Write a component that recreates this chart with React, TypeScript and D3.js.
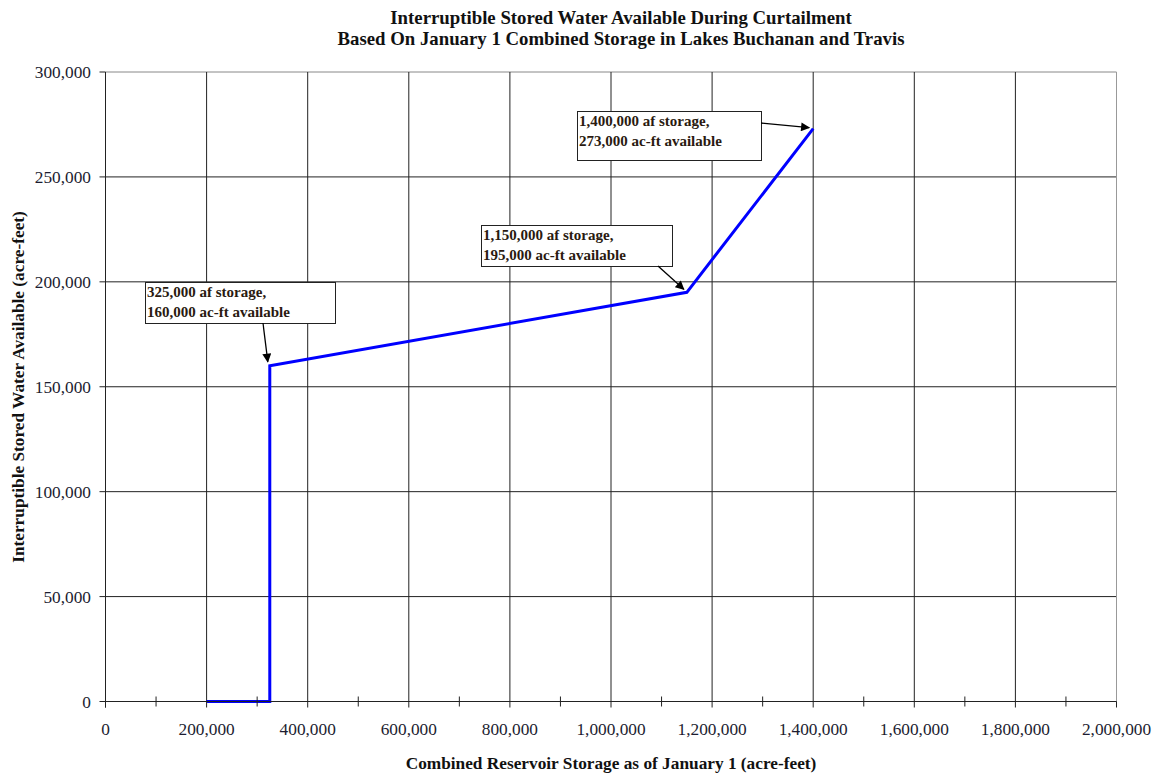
import React from "react";
import * as d3 from "d3";

const storage = [200000, 325000, 325000, 1150000, 1400000];
const available = [0, 0, 160000, 195000, 273000];
const xTicks = [0, 200000, 400000, 600000, 800000, 1000000, 1200000, 1400000, 1600000, 1800000, 2000000];
const xMinorTicks = [100000, 300000, 500000, 700000, 900000, 1100000, 1300000, 1500000, 1700000, 1900000];
const yTicks = [0, 50000, 100000, 150000, 200000, 250000, 300000];
const titleLines = [
  "Interruptible Stored Water Available During Curtailment",
  "Based On January 1 Combined Storage in Lakes Buchanan and Travis",
];
const xTitle = "Combined Reservoir Storage as of January 1 (acre-feet)";
const yTitle = "Interruptible Stored Water Available (acre-feet)";
const notes = [
  { x: 325000, y: 160000, lines: ["325,000 af storage,", "160,000 ac-ft available"] },
  { x: 1150000, y: 195000, lines: ["1,150,000 af storage,", "195,000 ac-ft available"] },
  { x: 1400000, y: 273000, lines: ["1,400,000 af storage,", "273,000 ac-ft available"] },
];
// layout for annotation boxes (pixels): box left, top, width, height, arrow start, arrow tip offset
const noteLayout = [
  { bx: 145, by: 282, bw: 190, bh: 41, ax: 263, ay: 323, tdx: -2, tdy: -4 },
  { bx: 481, by: 225, bw: 191, bh: 41, ax: 658, ay: 266, tdx: -3, tdy: -3 },
  { bx: 577, by: 111, bw: 184, bh: 49, ax: 761, ay: 123, tdx: -4, tdy: -1 },
];

export default function App() {
  const W = 1157, H = 773;
  const x = d3.scaleLinear().domain([0, 2000000]).range([105.5, 1116.5]);
  const y = d3.scaleLinear().domain([0, 300000]).range([701.5, 72]);
  const fmt = d3.format(",");
  const pts: [number, number][] = storage.map((s, i) => [s, available[i]]);
  const line = d3.line<[number, number]>().x(d => x(d[0])).y(d => y(d[1]));
  const serif = "'Liberation Serif', 'Times New Roman', serif";
  return (
    <svg width={W} height={H} style={{ position: "absolute", left: 0, top: 0, background: "#fff" }} fontFamily={serif}>
      <defs>
        <marker id="ah" viewBox="0 0 10 10" refX="9" refY="5" markerWidth="10" markerHeight="9" markerUnits="userSpaceOnUse" orient="auto">
          <path d="M0,0 L10,5 L0,10 z" fill="#000" />
        </marker>
      </defs>
      {titleLines.map((t, i) => (
        <text key={i} x={621} y={24 + i * 21} textAnchor="middle" fontWeight="bold" fontSize={18.8} fill="#111">{t}</text>
      ))}
      {/* horizontal gridlines */}
      {yTicks.map(t => (
        <line key={"hy" + t} x1={x(0)} x2={x(2000000)} y1={y(t)} y2={y(t)} stroke={t === 300000 ? "#888" : "#222"} strokeWidth={1} />
      ))}
      {/* vertical gridlines */}
      {xTicks.filter(t => t > 0).map(t => (
        <line key={"vx" + t} x1={x(t)} x2={x(t)} y1={y(300000)} y2={y(0)} stroke={t === 2000000 ? "#999" : "#222"} strokeWidth={1} />
      ))}
      {/* data line */}
      <path d={line(pts) || ""} fill="none" stroke="#0000ff" strokeWidth={3} strokeLinejoin="miter" />
      {/* axes */}
      <line x1={x(0)} x2={x(0)} y1={y(300000)} y2={y(0) + 6} stroke="#222" />
      <line x1={x(0)} x2={x(2000000)} y1={y(0)} y2={y(0)} stroke="#222" />
      {yTicks.map(t => (
        <g key={"yt" + t}>
          <line x1={x(0) - 6} x2={x(0)} y1={y(t)} y2={y(t)} stroke="#222" />
          <text x={91} y={y(t)} dy="0.35em" textAnchor="end" fontSize={17.3} fill="#1c1c30">{fmt(t)}</text>
        </g>
      ))}
      {xTicks.map(t => (
        <g key={"xt" + t}>
          <line x1={x(t)} x2={x(t)} y1={y(0)} y2={y(0) + 6} stroke="#222" />
          <text x={x(t)} y={735} textAnchor="middle" fontSize={17.3} fill="#1c1c30">{fmt(t)}</text>
        </g>
      ))}
      {xMinorTicks.map(t => (
        <line key={"mx" + t} x1={x(t)} x2={x(t)} y1={y(0) - 5} y2={y(0) + 5} stroke="#222" />
      ))}
      <text x={611} y={769} textAnchor="middle" fontWeight="bold" fontSize={17.3} fill="#111">{xTitle}</text>
      <text transform={`translate(24,387) rotate(-90)`} textAnchor="middle" fontWeight="bold" fontSize={17.3} fill="#111">{yTitle}</text>
      {/* annotations */}
      {notes.map((n, i) => {
        const L = noteLayout[i];
        return (
          <g key={"n" + i}>
            <rect x={L.bx + 0.5} y={L.by + 0.5} width={L.bw} height={L.bh} fill="#fff" stroke="#222" strokeWidth={1} />
            {n.lines.map((s, j) => (
              <text key={j} x={L.bx + 2} y={L.by + 15 + j * 19.5} fontWeight="bold" fontSize={15} fill="#2a1a10">{s}</text>
            ))}
            <line x1={L.ax} y1={L.ay} x2={x(n.x) + L.tdx} y2={y(n.y) + L.tdy} stroke="#000" strokeWidth={1.3} markerEnd="url(#ah)" />
          </g>
        );
      })}
    </svg>
  );
}
